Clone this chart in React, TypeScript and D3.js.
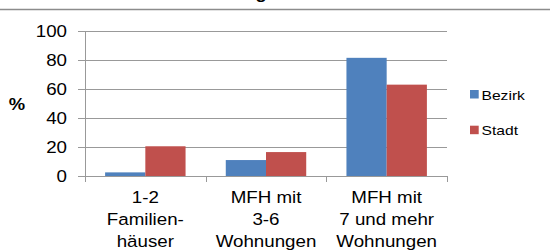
import { useEffect, useRef } from "react";
import * as d3 from "d3";

const categories = ["1-2 Familien- häuser", "MFH mit 3-6 Wohnungen", "MFH mit 7 und mehr Wohnungen"];
const categoryLines = [
  ["1-2", "Familien-", "häuser"],
  ["MFH mit", "3-6", "Wohnungen"],
  ["MFH mit", "7 und mehr", "Wohnungen"],
];
const seriesNames = ["Bezirk", "Stadt"];
const bezirk = [2.5, 11, 81.5];
const stadt = [20.5, 16.5, 63];
const yTicks = [0, 20, 40, 60, 80, 100];
const colors = ["#4F81BD", "#C0504D"];

const W = 550;
const H = 250;
const SX = 1.15; // picture is stretched horizontally

export default function App() {
  const svgRef = useRef<SVGSVGElement | null>(null);

  useEffect(() => {
    if (!svgRef.current) return;
    const svg = d3.select(svgRef.current);
    svg.selectAll("*").remove();

    const font = "Liberation Sans, Arial, sans-serif";
    const left = 85;
    const right = 447;
    const top = 31;
    const bottom = 176;

    const x = d3.scaleBand<string>().domain(categories).range([left, right]).paddingInner(0).paddingOuter(0);
    const xs = d3.scaleBand<string>().domain(seriesNames).range([0, x.bandwidth()]).paddingInner(0).paddingOuter(0.5);
    const y = d3.scaleLinear().domain([0, 100]).range([bottom, top]);

    // text helper with horizontal stretch
    const txt = (g: any, tx: number, ty: number, s: string, anchor: string, weight = "normal", size = 16.3) =>
      g
        .append("text")
        .attr("transform", `translate(${tx},${ty}) scale(${SX},1)`)
        .attr("text-anchor", anchor)
        .attr("font-family", font)
        .attr("font-size", size)
        .attr("font-weight", weight)
        .attr("fill", "#000")
        .text(s);

    // title (cut off at the top, only the bottom edge shows)
    txt(svg, 268, -1.5, "Wohngebäude", "middle", "bold", 16);
    svg.append("line").attr("x1", 0).attr("x2", W).attr("y1", 9.5).attr("y2", 9.5).attr("stroke", "#8c8c8c").attr("stroke-width", 1.5);

    // gridlines
    svg
      .append("g")
      .selectAll("line")
      .data(yTicks)
      .join("line")
      .attr("x1", left - 7)
      .attr("x2", right)
      .attr("y1", (d) => Math.round(y(d)) + 0.5)
      .attr("y2", (d) => Math.round(y(d)) + 0.5)
      .attr("stroke", "#999")
      .attr("stroke-width", 1);

    // y tick labels
    const yl = svg.append("g");
    yTicks.forEach((t) => txt(yl, 67, y(t) + 6, String(t), "end"));

    txt(svg, 17, 110, "%", "middle", "bold", 16);

    // bars
    const series = [bezirk, stadt];
    series.forEach((vals, si) => {
      svg
        .append("g")
        .selectAll("rect")
        .data(vals)
        .join("rect")
        .attr("x", (_, i) => (x(categories[i]) as number) + (xs(seriesNames[si]) as number))
        .attr("width", xs.bandwidth())
        .attr("y", (d) => y(d))
        .attr("height", (d) => bottom - y(d))
        .attr("fill", colors[si]);
    });

    // axes lines
    svg.append("line").attr("x1", left + 0.5).attr("x2", left + 0.5).attr("y1", top).attr("y2", bottom).attr("stroke", "#999");
    svg.append("line").attr("x1", left).attr("x2", right).attr("y1", bottom + 0.5).attr("y2", bottom + 0.5).attr("stroke", "#999");
    const xt = [...categories.map((c) => x(c) as number), right];
    svg
      .append("g")
      .selectAll("line")
      .data(xt)
      .join("line")
      .attr("x1", (d) => Math.round(d) + 0.5)
      .attr("x2", (d) => Math.round(d) + 0.5)
      .attr("y1", bottom)
      .attr("y2", bottom + 6)
      .attr("stroke", "#999");

    // category labels
    const cl = svg.append("g");
    categories.forEach((c, i) => {
      const cx = (x(c) as number) + x.bandwidth() / 2;
      categoryLines[i].forEach((line, j) => txt(cl, cx, 203 + j * 21.8, line, "middle"));
    });

    // legend
    const lg = svg.append("g");
    seriesNames.forEach((s, i) => {
      const ly = 90 + i * 35.7;
      lg.append("rect").attr("x", 470).attr("y", ly).attr("width", 8.7).attr("height", 8.5).attr("fill", colors[i]);
      txt(lg, 481.5, ly + 9.5, s, "start", "normal", 13.6);
    });
  }, []);

  return (
    <svg
      ref={svgRef}
      width={W}
      height={H}
      style={{ position: "absolute", left: 0, top: 0, background: "#fff" }}
    />
  );
}
